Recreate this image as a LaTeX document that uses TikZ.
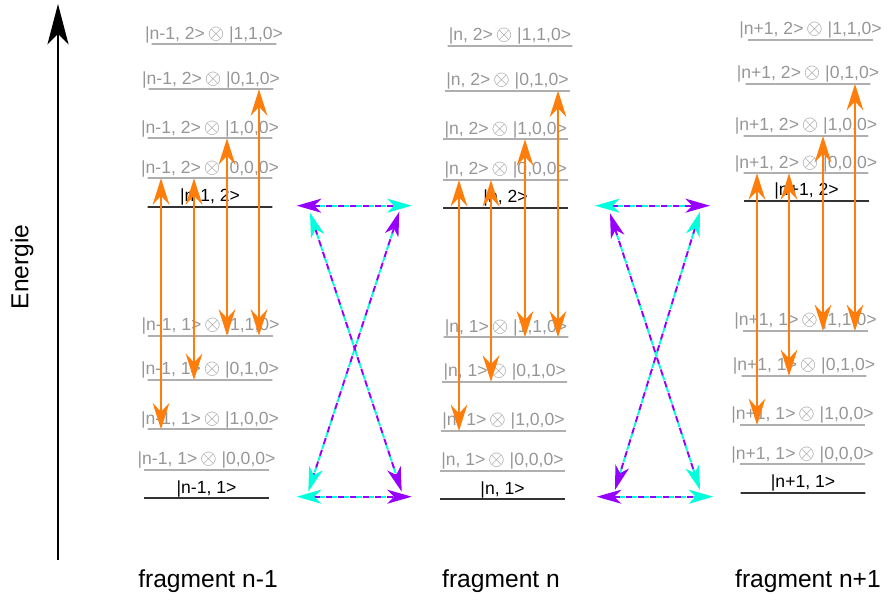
\documentclass[tikz,border=0pt]{standalone}
\usepackage{fontspec}
\setmainfont{Liberation Sans}
\usetikzlibrary{arrows.meta}
\definecolor{trorange}{RGB}{255,125,10}
\definecolor{xviolet}{RGB}{150,0,255}
\definecolor{xcyan}{RGB}{0,255,220}
\definecolor{lvlgray}{RGB}{175,175,175}
\definecolor{txtgray}{RGB}{150,150,150}
\newcommand{\kron}{\,{\fontsize{12.5}{13}\selectfont$\otimes$}\;}

\begin{document}
\begin{tikzpicture}[
  x=0.02cm,y=-0.02cm,
  lvl/.style={draw=lvlgray,line width=1.1pt,minimum width=2.5cm,minimum height=0pt,inner sep=0pt,label distance=2pt},
  base/.style={lvl,draw=black!80},
  lbl/.style={inner sep=0pt,font=\fontsize{10}{12}\selectfont,text=txtgray},
  blbl/.style={lbl,text=black},
  frag/.style={font=\fontsize{14}{16}\selectfont},
  axis/.style={draw,line width=1.1pt,-{Stealth[length=23pt,width=12pt,inset=6pt]}},
  trans/.style={draw=trorange,line width=1.1pt,{Stealth[length=15pt,width=9.5pt,inset=5pt]}-{Stealth[length=15pt,width=9.5pt,inset=5pt]}},
  cl/.style={draw=xcyan,line width=1.1pt,dash pattern=on 3.5pt off 3.5pt,dash phase=3.5pt,shorten <=9pt,shorten >=9pt},
  vc/.style={draw=xviolet,line width=1.1pt,dash pattern=on 3.5pt off 3.5pt,{Stealth[color=xviolet,length=14pt,width=8pt,inset=4pt]}-{Stealth[color=xcyan,length=14pt,width=8pt,inset=4pt]}},
  cv/.style={draw=xviolet,line width=1.1pt,dash pattern=on 3.5pt off 3.5pt,{Stealth[color=xcyan,length=14pt,width=8pt,inset=4pt]}-{Stealth[color=xviolet,length=14pt,width=8pt,inset=4pt]}},
]
  \useasboundingbox (0,0) rectangle (890,601);

  % Energy axis
  \coordinate (ax0) at (58,560);
  \coordinate (ax1) at (58,4);
  \path (ax0) edge[axis] (ax1);
  \node[frag,rotate=90] (energie) at (22,267) {Energie};

  % fragment n-1
  \node[lvl,label={[lbl]above:{|n-1, 2>\kron|1,1,0>}}] (L2xy) at (214,44.3) {};
  \node[lvl,label={[lbl]above:{|n-1, 2>\kron|0,1,0>}}] (L2y) at (211,89.3) {};
  \node[lvl,label={[lbl]above:{|n-1, 2>\kron|1,0,0>}}] (L2x) at (210,138.3) {};
  \node[lvl,label={[lbl]above:{|n-1, 2>\kron|0,0,0>}}] (L2o) at (210,178.3) {};
  \node[base,label={[blbl]above:{|n-1, 2>}}] (L2) at (210,206.7) {};
  \node[lvl,label={[lbl]above:{|n-1, 1>\kron|1,1,0>}}] (L1xy) at (210.5,335.7) {};
  \node[lvl,label={[lbl]above:{|n-1, 1>\kron|0,1,0>}}] (L1y) at (210,380) {};
  \node[lvl,label={[lbl]above:{|n-1, 1>\kron|1,0,0>}}] (L1x) at (210,429.3) {};
  \node[lvl,label={[lbl]above:{|n-1, 1>\kron|0,0,0>}}] (L1o) at (206.5,470) {};
  \node[base,label={[blbl]above:{|n-1, 1>}}] (L1) at (206.5,498.3) {};
  \node[frag] (fragL) at (208,581) {fragment n-1};

  % fragment n
  \node[lvl,label={[lbl]above:{|n, 2>\kron|1,1,0>}}] (C2xy) at (510,46) {};
  \node[lvl,label={[lbl]above:{|n, 2>\kron|0,1,0>}}] (C2y) at (507.5,90.7) {};
  \node[lvl,label={[lbl]above:{|n, 2>\kron|1,0,0>}}] (C2x) at (505.7,139.3) {};
  \node[lvl,label={[lbl]above:{|n, 2>\kron|0,0,0>}}] (C2o) at (505.7,180) {};
  \node[base,label={[blbl]above:{|n, 2>}}] (C2) at (505.5,207.7) {};
  \node[lvl,label={[lbl]above:{|n, 1>\kron|1,1,0>}}] (C1xy) at (506,337.3) {};
  \node[lvl,label={[lbl]above:{|n, 1>\kron|0,1,0>}}] (C1y) at (504.7,381.7) {};
  \node[lvl,label={[lbl]above:{|n, 1>\kron|1,0,0>}}] (C1x) at (503.5,431) {};
  \node[lvl,label={[lbl]above:{|n, 1>\kron|0,0,0>}}] (C1o) at (502.5,471) {};
  \node[base,label={[blbl]above:{|n, 1>}}] (C1) at (502.5,499.3) {};
  \node[frag] (fragC) at (501,581) {fragment n};

  % fragment n+1
  \node[lvl,label={[lbl]above:{|n+1, 2>\kron|1,1,0>}}] (R2xy) at (810.5,40) {};
  \node[lvl,label={[lbl]above:{|n+1, 2>\kron|0,1,0>}}] (R2y) at (808,84) {};
  \node[lvl,label={[lbl]above:{|n+1, 2>\kron|1,0,0>}}] (R2x) at (806,136) {};
  \node[lvl,label={[lbl]above:{|n+1, 2>\kron|0,0,0>}}] (R2o) at (806,173.3) {};
  \node[base,label={[blbl]above:{|n+1, 2>}}] (R2) at (806.5,201) {};
  \node[lvl,label={[lbl]above:{|n+1, 1>\kron|1,1,0>}}] (R1xy) at (805.5,331) {};
  \node[lvl,label={[lbl]above:{|n+1, 1>\kron|0,1,0>}}] (R1y) at (804,376) {};
  \node[lvl,label={[lbl]above:{|n+1, 1>\kron|1,0,0>}}] (R1x) at (802.5,425) {};
  \node[lvl,label={[lbl]above:{|n+1, 1>\kron|0,0,0>}}] (R1o) at (802.5,464.3) {};
  \node[base,label={[blbl]above:{|n+1, 1>}}] (R1) at (803,492.7) {};
  \node[frag] (fragR) at (808,581) {fragment n+1};

  % transitions (x positions)
  \coordinate (La) at (161,0);   \coordinate (Lb) at (194,0);
  \coordinate (Lc) at (227,0);   \coordinate (Ld) at (259,0);
  \coordinate (Ca) at (459,0);   \coordinate (Cb) at (491,0);
  \coordinate (Cc) at (525,0);   \coordinate (Cd) at (558,0);
  \coordinate (Ra) at (757,0);   \coordinate (Rb) at (789,0);
  \coordinate (Rc) at (823,0);   \coordinate (Rd) at (855,0);

  \path (La |- L2o) edge[trans] (La |- L1x);
  \path (Lb |- L2o) edge[trans] (Lb |- L1y);
  \path (Lc |- L2x) edge[trans] (Lc |- L1xy);
  \path (Ld |- L2y) edge[trans] (Ld |- L1xy);
  \path (Ca |- C2o) edge[trans] (Ca |- C1x);
  \path (Cb |- C2o) edge[trans] (Cb |- C1y);
  \path (Cc |- C2x) edge[trans] (Cc |- C1xy);
  \path (Cd |- C2y) edge[trans] (Cd |- C1xy);
  \path (Ra |- R2o) edge[trans] (Ra |- R1x);
  \path (Rb |- R2o) edge[trans] (Rb |- R1y);
  \path (Rc |- R2x) edge[trans] (Rc |- R1xy);
  \path (Rd |- R2y) edge[trans] (Rd |- R1xy);

  % coupling between fragments n-1 and n
  \coordinate (hLtl) at (296.7,205.7); \coordinate (hLtr) at (411.7,205.7);
  \coordinate (hLbl) at (296.7,496.7); \coordinate (hLbr) at (411.7,496.7);
  \coordinate (dLtl) at (310,212.7);   \coordinate (dLtr) at (399.3,211.7);
  \coordinate (dLbl) at (308.3,491.7); \coordinate (dLbr) at (401.7,491.7);
  \path (hLtl) edge[cl] (hLtr) edge[vc] (hLtr);
  \path (hLbl) edge[cl] (hLbr) edge[cv] (hLbr);
  \path (dLtl) edge[cl] (dLbr) edge[cv] (dLbr);
  \path (dLtr) edge[cl] (dLbl) edge[vc] (dLbl);

  % coupling between fragments n and n+1
  \coordinate (hRtl) at (595,205.7);   \coordinate (hRtr) at (710,205.7);
  \coordinate (hRbl) at (596.7,496.7); \coordinate (hRbr) at (713.3,496.7);
  \coordinate (dRtl) at (610,213.3);   \coordinate (dRtr) at (700,211.7);
  \coordinate (dRbl) at (615,490);     \coordinate (dRbr) at (700,490);
  \path (hRtl) edge[cl] (hRtr) edge[cv] (hRtr);
  \path (hRbl) edge[cl] (hRbr) edge[vc] (hRbr);
  \path (dRtl) edge[cl] (dRbr) edge[vc] (dRbr);
  \path (dRtr) edge[cl] (dRbl) edge[cv] (dRbl);
\end{tikzpicture}
\end{document}
